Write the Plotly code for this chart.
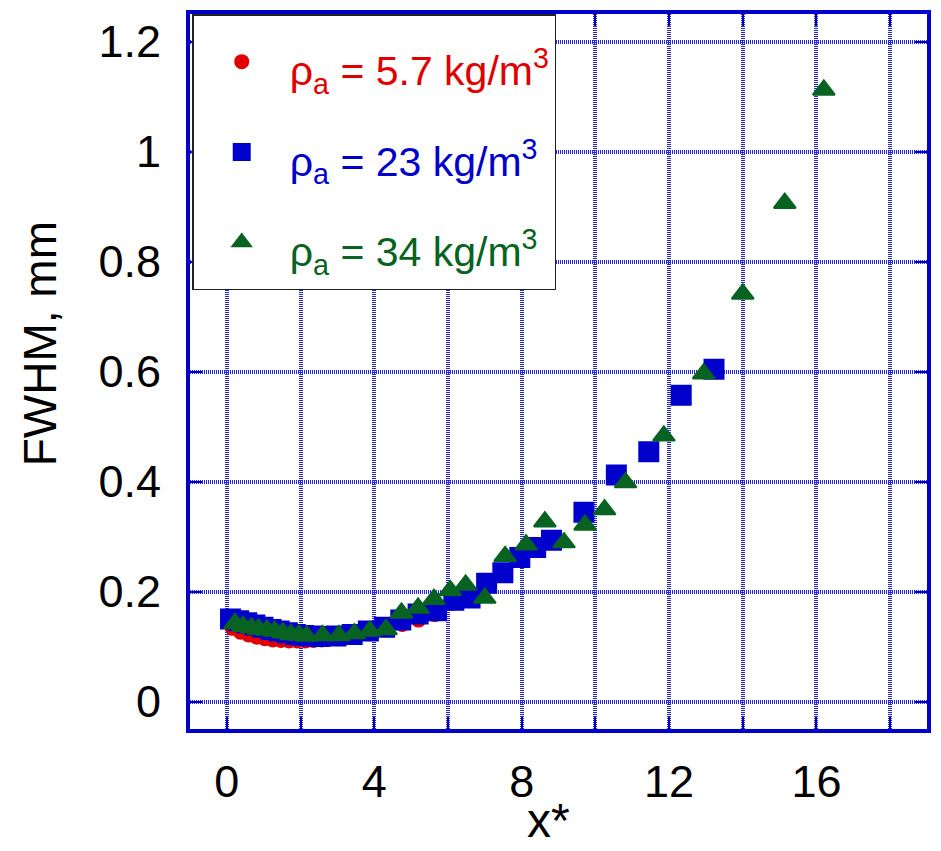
import plotly.graph_objects as go

# Full width at half maximum of the spray profile vs. normalised distance x*
# for three ambient gas densities.

x_low = [0.15, 0.37, 0.59, 0.81, 1.03, 1.25, 1.47, 1.69, 1.91, 2.13, 2.35, 2.57,
         3.00, 3.44, 3.88, 4.32, 4.76, 5.20, 5.64, 6.10]
fwhm_low = [0.133, 0.126, 0.121, 0.117, 0.114, 0.112, 0.111, 0.110, 0.110, 0.110,
            0.111, 0.112, 0.114, 0.118, 0.123, 0.130, 0.140, 0.148, 0.158, 0.178]

x_mid = [0.10, 0.32, 0.54, 0.76, 0.98, 1.20, 1.42, 1.64, 1.86, 2.08, 2.30, 2.52,
         2.96, 3.40, 3.84, 4.28, 4.72, 5.19, 5.69, 6.16, 6.60, 7.05, 7.49, 7.95,
         8.38, 8.81, 9.69, 10.57, 11.45, 12.33, 13.22]
fwhm_mid = [0.150, 0.147, 0.143, 0.139, 0.135, 0.131, 0.128, 0.125, 0.122, 0.120,
            0.119, 0.118, 0.119, 0.122, 0.128, 0.135, 0.148, 0.159, 0.165, 0.184,
            0.188, 0.215, 0.234, 0.262, 0.280, 0.293, 0.344, 0.412, 0.454, 0.557,
            0.604]

x_high = [0.22, 0.44, 0.67, 0.86, 1.09, 1.30, 1.52, 1.74, 1.96, 2.17, 2.60, 3.04,
          3.46, 3.88, 4.32, 4.74, 5.19, 5.62, 6.06, 6.48, 7.00, 7.55, 8.12, 8.63,
          9.15, 9.72, 10.25, 10.82, 11.86, 12.94, 14.00, 15.14, 16.20]
fwhm_high = [0.142, 0.137, 0.134, 0.132, 0.130, 0.128, 0.125, 0.122, 0.121, 0.119,
             0.120, 0.120, 0.1235, 0.128, 0.131, 0.161, 0.170, 0.186, 0.202, 0.212,
             0.188, 0.264, 0.285, 0.327, 0.289, 0.321, 0.349, 0.398, 0.483, 0.596,
             0.741, 0.906, 1.112]

x_tick_vals = [0, 2, 4, 6, 8, 10, 12, 14, 16, 18]
x_tick_text = ["0", "", "4", "", "8", "", "12", "", "16", ""]
y_tick_vals = [0, 0.2, 0.4, 0.6, 0.8, 1.0, 1.2]
y_tick_text = ["0", "0.2", "0.4", "0.6", "0.8", "1", "1.2"]

RED = "#e00000"
BLUE = "#0000cc"
GREEN = "#086322"
FONT = "Arial, Liberation Sans, sans-serif"


def label(color, value):
    # legend line height comes from the (larger) legend font; the visible
    # text is drawn smaller so it sits below the symbol
    return (f'<span style="color:{color};font-size:41px">'
            f'ρ<sub>a</sub> = {value} kg/m<sup>3</sup></span>')


fig = go.Figure()
fig.add_trace(go.Scatter(
    x=x_low, y=fwhm_low, mode="markers", name=label(RED, "5.7"), legendgroup="a",
    marker=dict(symbol="circle", size=15, color=RED, line=dict(width=0)),
))
fig.add_trace(go.Scatter(
    x=x_mid, y=fwhm_mid, mode="markers", name=label(BLUE, "23"), legendgroup="b",
    marker=dict(symbol="square", size=19, color=BLUE, line=dict(width=2, color=BLUE)),
))
fig.add_trace(go.Scatter(
    x=x_high, y=fwhm_high, mode="markers", name=label(GREEN, "34"), legendgroup="c",
    marker=dict(symbol="triangle-up", size=19, color=GREEN, line=dict(width=2, color=GREEN)),
))

axis_common = dict(
    showline=True, linecolor=BLUE, linewidth=4, mirror="ticks",
    ticks="inside", ticklen=12, tickwidth=2, tickcolor=BLUE,
    showgrid=True, gridcolor="#2424d8", gridwidth=4, griddash="1px,1px",
    zeroline=False,
    tickfont=dict(family=FONT, size=45, color="black"),
)

fig.update_xaxes(range=[-1, 19], tickmode="array", tickvals=x_tick_vals,
                 ticktext=x_tick_text, ticklabelstandoff=10, **axis_common)
fig.update_yaxes(range=[-0.05, 1.25], tickmode="array", tickvals=y_tick_vals,
                 ticktext=y_tick_text, ticklabelstandoff=16, **axis_common)

fig.update_layout(
    width=941, height=851, autosize=False,
    margin=dict(l=190, r=10, t=11, b=122),
    plot_bgcolor="white", paper_bgcolor="white",
    font=dict(family=FONT, color="black"),
    showlegend=True,
    legend=dict(
        x=0.003, y=1.0, xanchor="left", yanchor="top",
        bgcolor="white", bordercolor="#222222", borderwidth=1.5,
        font=dict(family=FONT, size=61),
        itemwidth=86, tracegroupgap=8,
    ),
    annotations=[
        dict(text="FWHM, mm", textangle=-90, xref="paper", yref="paper",
             x=-0.204, y=0.539, xanchor="center", yanchor="middle",
             showarrow=False, font=dict(family=FONT, size=46, color="black")),
        dict(text="x*", xref="paper", yref="paper", x=0.487, y=-0.1671,
             xanchor="center", yanchor="bottom", showarrow=False, borderpad=0,
             font=dict(family=FONT, size=48, color="black")),
    ],
)

fig.write_html("out.html")
